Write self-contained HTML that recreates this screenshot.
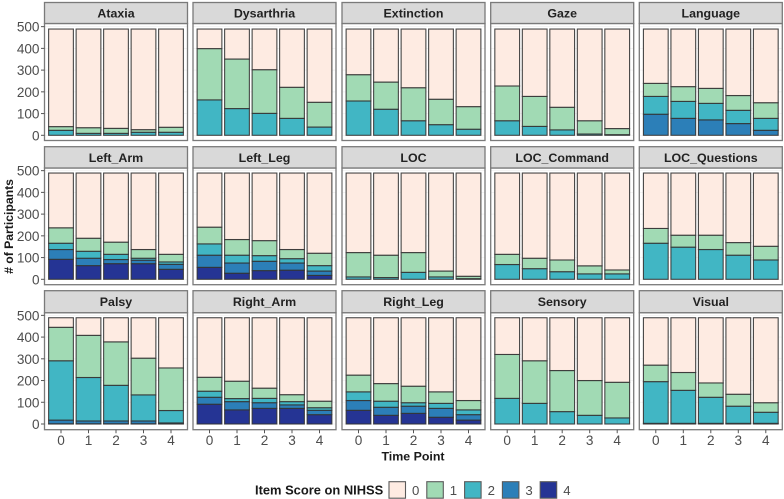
<!DOCTYPE html>
<html lang="en">
<head>
<meta charset="utf-8">
<title>Item Score on NIHSS by Time Point</title>
<style>
html,body{margin:0;padding:0;background:#fff;width:784px;height:499px;overflow:hidden}
svg{display:block;font-family:"Liberation Sans",sans-serif;filter:blur(0.35px)}
</style>
</head>
<body>
<svg id="chart" width="784" height="499" viewBox="0 0 784 499" xmlns="http://www.w3.org/2000/svg"></svg>
<script>
const facets = ["Ataxia","Dysarthria","Extinction","Gaze","Language","Left_Arm","Left_Leg","LOC","LOC_Command","LOC_Questions","Palsy","Right_Arm","Right_Leg","Sensory","Visual"];
const timePoints = ["0","1","2","3","4"];
const yTicks = [0,100,200,300,400,500];
const scoreLabels = ["0","1","2","3","4"];

const score0 = [
[449,454,457,463,452],[90,138,187,268,337],[210,244,270,323,357],[262,310,360,422,458],[250,265,273,306,339],
[252,300,318,352,374],[249,306,311,352,369],[366,378,366,451,475],[374,392,400,427,446],[255,286,286,320,337],
[44,81,111,186,231],[274,292,324,354,384],[264,303,315,341,381],[169,198,243,289,297],[218,252,300,352,391]];
const score1 = [
[17,26,23,12,23],[236,228,201,143,114],[121,125,152,117,104],[160,138,104,61,28],[60,68,69,68,72],
[71,60,56,40,35],[77,72,69,42,57],[112,103,91,27,11],[47,48,54,37,18],[68,55,66,58,63],
[154,194,200,169,196],[64,80,47,32,30],[77,81,76,53,43],[202,196,189,160,164],[76,82,66,55,44]];
const score2 = [
[23,9,9,14,14],[163,123,101,78,38],[158,120,67,49,28],[67,41,25,6,0],[82,78,76,61,55],
[29,32,24,9,11],[52,36,26,20,25],[11,8,32,11,3],[68,49,35,25,25],[166,148,137,111,89],
[273,200,164,120,57],[28,14,20,15,12],[40,28,16,23,22],[118,95,57,40,28],[192,152,120,79,51]];
const score3 = [
[0,0,0,0,0],[0,0,0,0,0],[0,0,0,0,0],[0,0,0,0,3],[97,78,71,54,23],
[45,34,19,16,23],[56,47,43,33,20],[0,0,0,0,0],[0,0,0,0,0],[0,0,0,0,0],
[17,13,13,13,4],[32,38,26,16,20],[45,37,33,41,25],[0,0,0,0,0],[3,3,3,3,3]];
const score4 = [
[0,0,0,0,0],[0,0,0,0,0],[0,0,0,0,0],[0,0,0,0,0],[0,0,0,0,0],
[92,63,72,72,46],[55,28,40,42,18],[0,0,0,0,0],[0,0,0,0,0],[0,0,0,0,0],
[1,1,1,1,1],[91,65,72,72,43],[63,40,49,31,18],[0,0,0,0,0],[0,0,0,0,0]];

const scoreSeries = [score4,score3,score2,score1,score0];
const seriesScore = [4,3,2,1,0];
const fills = ["#FEEBE2","#A1DAB4","#41B6C4","#2C7FB8","#253494"];

const svg = document.getElementById('chart');
const NS = 'http://www.w3.org/2000/svg';
const colLeft = [44.5,193,342,490.7,639.3];
const rowStripTop = [2.5,146.7,290.7];
const rowStripBottom = [23.5,168,312.7];
const rowBottom = [140.5,284.7,429.7];
const rowZero = [135.3,279.3,424];
const panelW = 143;
const unit = 0.2173;
const step = panelW / 5.2;

function yScale(row, v){ return rowZero[row] - v * unit; }
function xScale(col, i){ return colLeft[col] + (i + 0.6) * step; }
function add(tag, attrs, parent){
  const el = document.createElementNS(NS, tag);
  for (const k in attrs) el.setAttribute(k, attrs[k]);
  (parent || svg).appendChild(el);
  return el;
}

facets.forEach(function(name, f){
  const col = f % 5;
  const row = Math.floor(f / 5);
  const left = colLeft[col];
  const g = add('g', {});
  
  

  const bg = add('rect', {x:left, y:rowStripBottom[row], width:panelW, height:rowBottom[row]-rowStripBottom[row], fill:'#fff'}, g);
  
  

  yTicks.forEach(function(t){
    const gl = add('line', {x1:left, x2:left+panelW, y1:yScale(row,t), y2:yScale(row,t), stroke:'#f0f0f0', 'stroke-width':0.7}, g);
    
    
  });

  timePoints.forEach(function(tp, i){
    let cum = 0;
    scoreSeries.forEach(function(series, s){
      const v = series[f][i];
      if (v <= 0) return;
      const yTop = yScale(row, cum + v);
      const yBot = yScale(row, cum);
      const bar = add('rect', {
        x: xScale(col,i) - step*0.45, y: yTop, width: step*0.9, height: yBot - yTop,
        fill: fills[seriesScore[s]], stroke:'#333333', 'stroke-width':1.1, 'stroke-opacity':0.9
      }, g);
      
      
      cum += v;
    });
  });

  const border = add('rect', {x:left, y:rowStripBottom[row], width:panelW, height:rowBottom[row]-rowStripBottom[row], fill:'none', stroke:'#7a7a7a', 'stroke-width':1.3}, g);
  
  

  const strip = add('rect', {x:left, y:rowStripTop[row], width:panelW, height:rowStripBottom[row]-rowStripTop[row], fill:'#D9D9D9', stroke:'#7a7a7a', 'stroke-width':1.3}, g);
  
  

  const label = add('text', {x:left+panelW/2, y:(rowStripTop[row]+rowStripBottom[row])/2+4.5, 'text-anchor':'middle', 'font-size':12.4, 'font-weight':'bold', fill:'#222222'}, g);
  
  
  label.textContent = name;

  if (col === 0) {
    yTicks.forEach(function(t){
      const y = yScale(row,t);
      const tk = add('line', {x1:left-3.5, x2:left, y1:y, y2:y, stroke:'#555', 'stroke-width':1}, g);
      
      
      const tl = add('text', {x:left-5, y:y+5, 'text-anchor':'end', 'font-size':13.6, fill:'#4d4d4d'}, g);
      
      
      tl.textContent = t;
    });
  }
  if (row === 2) {
    timePoints.forEach(function(tp, i){
      const x = xScale(col,i);
      const tk = add('line', {x1:x, x2:x, y1:rowBottom[row], y2:rowBottom[row]+3.5, stroke:'#555', 'stroke-width':1}, g);
      
      
      const tl = add('text', {x:x, y:445, 'text-anchor':'middle', 'font-size':13.6, fill:'#4d4d4d'}, g);
      
      
      tl.textContent = tp;
    });
  }
});

const yTitle = add('text', {x:0, y:0, transform:'translate(13,226.5) rotate(-90)', 'text-anchor':'middle', 'font-size':12.2, 'font-weight':'bold', fill:'#1a1a1a'});


yTitle.textContent = '# of Participants';

const xTitle = add('text', {x:413, y:460.5, 'text-anchor':'middle', 'font-size':12.4, 'font-weight':'bold', fill:'#1a1a1a'});


xTitle.textContent = 'Time Point';

const legend = add('g', {});



const legendTitle = add('text', {x:255, y:494.5, 'font-size':12.9, 'font-weight':'bold', fill:'#1a1a1a'}, legend);


legendTitle.textContent = 'Item Score on NIHSS';

const legendStep = 37.8;
scoreLabels.forEach(function(lbl, i){
  const kx = 389 + i * legendStep;
  const key = add('rect', {x:kx, y:481.7, width:16.5, height:16.5, fill:fills[i], stroke:'#5a5a5a', 'stroke-width':1.1}, legend);
  
  
  const tx = add('text', {x:kx+23, y:495, 'font-size':13.2, fill:'#4d4d4d'}, legend);
  
  
  tx.textContent = lbl;
});
</script>
</body>
</html>
